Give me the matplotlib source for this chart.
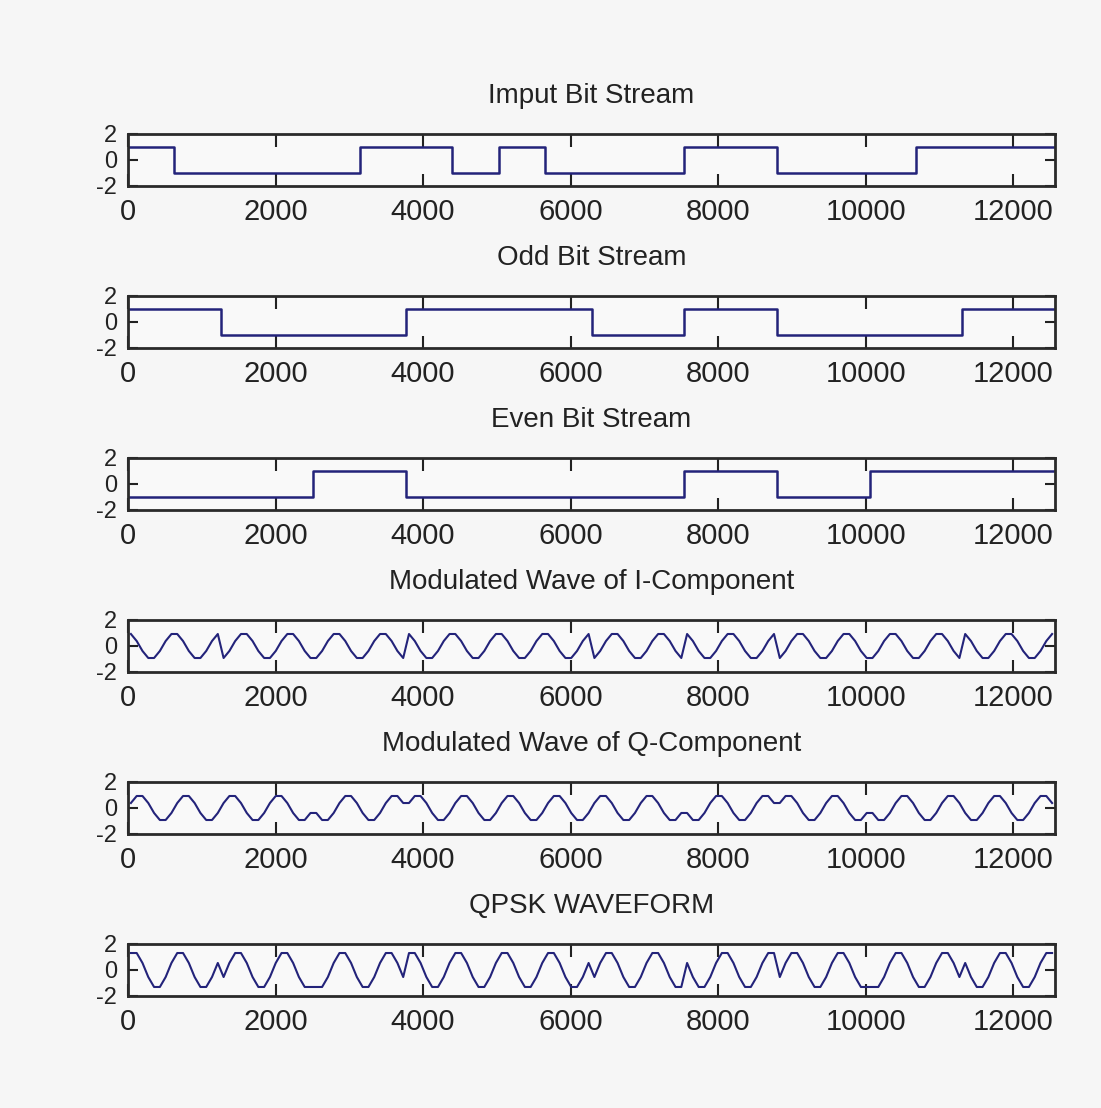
import numpy as np
import matplotlib.pyplot as plt

plt.rcParams['axes.unicode_minus'] = False

# bits
input_bits = [1, 0, 0, 0, 0, 1, 1, 0, 1, 0, 0, 0, 1, 1, 0, 0, 0, 1, 1, 1]
odd_bits = [1, 0, 0, 1, 1, 0, 1, 0, 0, 1]
even_bits = [0, 0, 1, 0, 0, 0, 1, 0, 1, 1]

titles = ['Imput Bit Stream', 'Odd Bit Stream', 'Even Bit Stream',
          'Modulated Wave of I-Component', 'Modulated Wave of Q-Component',
          'QPSK WAVEFORM']
x_ticks = [0, 2000, 4000, 6000, 8000, 10000, 12000]
y_ticks = [-2, 0, 2]

BIT_LEN = 628.3          # samples per input bit (one carrier cycle)
SAMPLES_PER_BIT = 8
LINE = '#23237a'
FONT = ['Liberation Sans', 'DejaVu Sans']


def nrz(bits):
    return np.array([1.0 if b else -1.0 for b in bits])


def stream(bits, length):
    lv = nrz(bits)
    edges = np.arange(len(lv) + 1) * length
    return edges, np.append(lv, lv[-1])


# carrier sampled coarsely, as in the original
n = len(input_bits) * SAMPLES_PER_BIT
xs = (np.arange(n) + 0.5) * BIT_LEN / SAMPLES_PER_BIT
phase = 2 * np.pi * xs / BIT_LEN
sym = (xs // (2 * BIT_LEN)).astype(int)
i_wave = nrz(odd_bits)[sym] * np.cos(phase)
q_wave = -nrz(even_bits)[sym] * np.sin(phase)
qpsk = i_wave + q_wave

fig = plt.figure(figsize=(11.01, 11.08), dpi=100, facecolor='#f6f6f6')
W, H = 1101.0, 1108.0

for k in range(6):
    top = 134 + 162 * k
    ax = fig.add_axes([128 / W, 1 - (top + 52) / H, 927 / W, 52 / H])
    ax.set_facecolor('#f9f9f9')

    if k == 0:
        ax.step(*stream(input_bits, BIT_LEN), where='post', color=LINE, lw=1.8)
    elif k == 1:
        ax.step(*stream(odd_bits, 2 * BIT_LEN), where='post', color=LINE, lw=1.8)
    elif k == 2:
        ax.step(*stream(even_bits, 2 * BIT_LEN), where='post', color=LINE, lw=1.8)
    elif k == 3:
        ax.plot(xs, i_wave, color=LINE, lw=1.5)
    elif k == 4:
        ax.plot(xs, q_wave, color=LINE, lw=1.5)
    else:
        ax.plot(xs, qpsk, color=LINE, lw=1.5)

    ax.set_xlim(0, len(input_bits) * BIT_LEN)
    ax.set_ylim(-2, 2)
    ax.set_xticks(x_ticks)
    ax.set_yticks(y_ticks)
    ax.tick_params(direction='in', top=True, right=True, length=9, width=1.5,
                   colors='#222222')
    ax.tick_params(axis='x', labelsize=21, pad=9)
    ax.tick_params(axis='y', labelsize=17, pad=8, length=7)
    for lab in ax.get_xticklabels() + ax.get_yticklabels():
        lab.set_family(FONT)
    for s in ax.spines.values():
        s.set_linewidth(2)
        s.set_color('#2a2a2a')
    ax.set_title(titles[k], fontsize=20, family=FONT, pad=22, color='#222222')

fig.savefig('out.png', dpi=100, facecolor=fig.get_facecolor())
